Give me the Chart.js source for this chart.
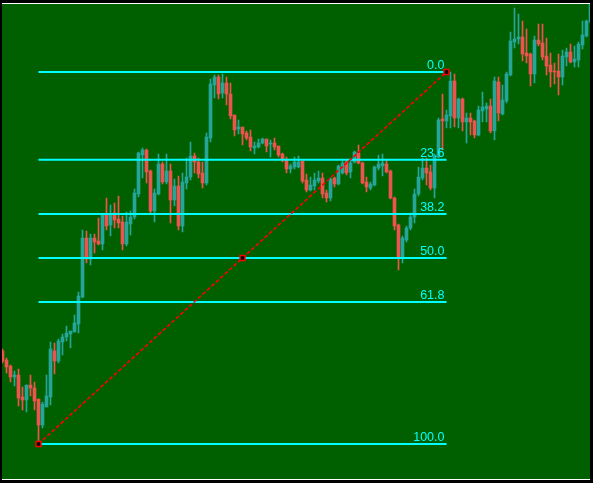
<!DOCTYPE html>
<html>
<head>
<meta charset="utf-8">
<style>
  html, body { margin: 0; padding: 0; background: #000; }
  canvas { display: block; }
</style>
</head>
<body>
<canvas id="chart" width="593" height="483"></canvas>
<script src="https://cdn.jsdelivr.net/npm/chart.js@4.4.1/dist/chart.umd.min.js"></script>
<script>
// prices in points above the swing low
const open = [
  93, 84, 78, 67, 69, 47, 44, 59, 56, 45,
  19, 37, 47, 93, 83, 102, 107, 110, 112, 120,
  147, 206, 185, 206, 203, 200, 229, 219, 231, 225,
  222, 200, 220, 227, 250, 289, 294, 273, 233, 250,
  280, 262, 273, 244, 258, 218, 261, 267, 288, 282,
  271, 261, 306, 359, 367, 351, 361, 350, 329, 315,
  317, 311, 307, 296, 297, 301, 305, 300, 301, 298,
  290, 284, 275, 277, 277, 283, 264, 254, 258, 263,
  266, 251, 246, 266, 260, 271, 282, 272, 282, 291,
  281, 262, 256, 259, 276, 278, 280, 273, 246, 219,
  187, 204, 216, 227, 250, 266, 276, 272, 256, 287,
  325, 323, 328, 363, 326, 345, 322, 326, 323, 309,
  333, 335, 338, 313, 362, 330, 343, 369, 402, 405,
  407, 391, 390, 370, 404, 401, 388, 379, 373, 373,
  367, 387, 392, 382, 384, 399, 408, 422
];
const high = [
  95, 86, 79, 73, 75, 57, 59, 69, 62, 45,
  42, 69, 102, 101, 105, 110, 118, 113, 129, 152,
  214, 213, 210, 210, 226, 230, 246, 239, 241, 248,
  228, 232, 233, 255, 292, 296, 295, 274, 255, 290,
  282, 290, 280, 265, 268, 271, 286, 302, 291, 286,
  282, 311, 365, 369, 369, 370, 367, 361, 329, 324,
  317, 313, 314, 302, 305, 306, 305, 304, 306, 298,
  291, 287, 280, 287, 288, 283, 270, 267, 271, 273,
  271, 254, 266, 267, 279, 283, 284, 283, 293, 299,
  282, 267, 262, 278, 289, 290, 285, 274, 247, 220,
  208, 218, 231, 255, 277, 286, 286, 279, 290, 326,
  350, 334, 372, 370, 346, 346, 331, 331, 324, 338,
  352, 341, 345, 367, 367, 359, 372, 412, 436, 430,
  423, 415, 391, 408, 420, 420, 406, 391, 381, 390,
  394, 396, 400, 398, 402, 423, 424, 441
];
const low = [
  81, 71, 62, 58, 38, 34, 32, 48, 34, 0,
  16, 37, 39, 70, 81, 89, 103, 96, 112, 111,
  146, 181, 179, 191, 199, 194, 214, 208, 216, 216,
  194, 198, 209, 225, 247, 266, 261, 231, 222, 249,
  260, 260, 221, 238, 214, 212, 255, 264, 271, 266,
  256, 259, 302, 346, 345, 346, 339, 325, 308, 310,
  299, 304, 293, 290, 296, 300, 292, 287, 294, 287,
  282, 271, 271, 275, 276, 261, 252, 253, 254, 261,
  246, 242, 243, 257, 259, 270, 269, 266, 281, 280,
  260, 252, 254, 258, 274, 268, 271, 245, 214, 174,
  181, 202, 214, 221, 248, 264, 259, 254, 246, 286,
  294, 316, 316, 317, 316, 313, 301, 309, 306, 308,
  322, 322, 311, 304, 323, 329, 341, 368, 396, 400,
  383, 381, 358, 361, 398, 384, 369, 357, 360, 349,
  359, 378, 381, 377, 377, 395, 407, 421
];
const close = [
  83, 77, 67, 69, 46, 44, 59, 56, 43, 19,
  40, 48, 95, 83, 103, 107, 111, 113, 121, 148,
  206, 185, 206, 202, 200, 229, 218, 229, 224, 221,
  200, 222, 227, 251, 291, 294, 272, 233, 251, 280,
  262, 273, 244, 258, 218, 262, 267, 288, 282, 270,
  261, 307, 360, 367, 350, 361, 350, 328, 314, 317,
  310, 306, 297, 298, 301, 305, 298, 301, 297, 289,
  285, 275, 278, 282, 282, 263, 254, 259, 264, 266,
  250, 246, 265, 260, 278, 281, 271, 281, 292, 281,
  261, 257, 260, 277, 280, 281, 272, 246, 218, 187,
  206, 216, 227, 250, 267, 276, 271, 256, 288, 324,
  323, 329, 363, 326, 345, 322, 326, 322, 309, 334,
  337, 338, 313, 363, 331, 344, 370, 403, 405, 407,
  390, 388, 370, 404, 400, 387, 378, 372, 372, 367,
  388, 392, 382, 385, 400, 409, 423, 440
];

// fibonacci object: swing low bar -> swing high bar
const fibLevels = [0.0, 23.6, 38.2, 50.0, 61.8, 100.0];
const fibLowBar = 9;
const fibHighBar = 111;
const fibLowPrice = 0;
const fibHighPrice = 372;

const bars = open.map((_, i) => i);

const BULL = '#26a69a';
const BEAR = '#ef5350';
const LEVEL = '#00ffff';

function levelPrice(lvl) {
  return fibHighPrice - (fibHighPrice - fibLowPrice) * lvl / 100;
}

const levelSets = fibLevels.map(lvl => ({
  type: 'line',
  data: [{ x: fibLowBar, y: levelPrice(lvl) }, { x: fibHighBar, y: levelPrice(lvl) }],
  borderColor: LEVEL,
  borderWidth: 2,
  pointRadius: 0,
  order: 1
}));

const midBar = (fibLowBar + fibHighBar) / 2;

// фон, рамка и подписи уровней
const mtFrame = {
  id: 'mtFrame',
  beforeDraw(chart) {
    const ctx = chart.ctx;
    ctx.save();
    ctx.fillStyle = '#000';
    ctx.fillRect(0, 0, chart.width, chart.height);
    ctx.fillStyle = '#006000';
    ctx.fillRect(2, 4, 588, 475);
    ctx.restore();
  },
  afterDatasetsDraw(chart) {
    const ctx = chart.ctx;
    const x = chart.scales.x.getPixelForValue(fibHighBar) - 2;
    ctx.save();
    ctx.font = '12.5px "Liberation Sans", Arial, sans-serif';
    ctx.fillStyle = LEVEL;
    ctx.textAlign = 'right';
    ctx.textBaseline = 'alphabetic';
    fibLevels.forEach(lvl => {
      const y = chart.scales.y.getPixelForValue(levelPrice(lvl));
      ctx.fillText(lvl.toFixed(1), x, y - 3);
    });
    ctx.restore();
  },
  afterDraw(chart) {
    const ctx = chart.ctx;
    ctx.save();
    ctx.fillStyle = '#000';
    ctx.fillRect(0, 0, 2, chart.height);
    ctx.fillRect(590, 0, chart.width - 590, chart.height);
    ctx.fillRect(0, 0, chart.width, 3);
    ctx.fillRect(0, 480, chart.width, chart.height - 480);
    ctx.fillStyle = '#ffffff';
    ctx.fillRect(2, 3, 588, 1);
    ctx.fillRect(2, 479, 588, 1);
    ctx.restore();
  }
};

new Chart(document.getElementById('chart'), {
  type: 'bar',
  data: {
    labels: bars,
    datasets: [
      {
        label: 'wick',
        data: bars.map(i => [low[i], high[i]]),
        backgroundColor: bars.map(i => close[i] >= open[i] ? BULL : BEAR),
        barThickness: 1,
        grouped: false,
        borderWidth: 0,
        order: 4
      },
      {
        label: 'body',
        data: bars.map(i => [open[i], close[i]]),
        backgroundColor: bars.map(i => close[i] >= open[i] ? BULL : BEAR),
        barThickness: 3,
        grouped: false,
        borderWidth: 0,
        minBarLength: 1,
        order: 3
      },
      ...levelSets,
      {
        type: 'line',
        label: 'trend',
        data: [
          { x: fibLowBar, y: fibLowPrice },
          { x: midBar, y: (fibLowPrice + fibHighPrice) / 2 },
          { x: fibHighBar, y: fibHighPrice }
        ],
        borderColor: '#ff0000',
        borderWidth: 1.6,
        borderDash: [4, 2],
        pointStyle: 'rect',
        pointRadius: 3.5,
        pointBorderWidth: 1.5,
        pointBorderColor: '#ff0000',
        pointBackgroundColor: '#000000',
        order: 0
      }
    ]
  },
  options: {
    responsive: false,
    animation: false,
    devicePixelRatio: 1,
    layout: { autoPadding: false, padding: { left: 0.5, right: 0.5, top: 0, bottom: 0 } },
    plugins: { legend: { display: false }, tooltip: { enabled: false } },
    scales: {
      x: { type: 'category', display: false, offset: true },
      y: { type: 'linear', display: false, min: -39, max: 444 }
    }
  },
  plugins: [mtFrame]
});
</script>
</body>
</html>
